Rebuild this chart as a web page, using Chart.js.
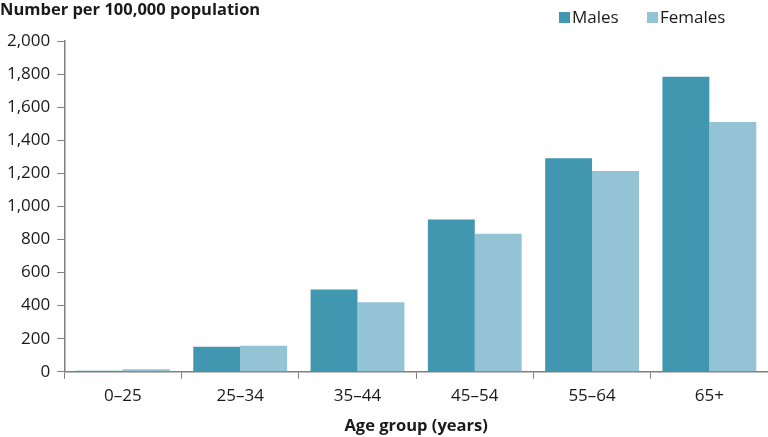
<!DOCTYPE html>
<html>
<head>
<meta charset="utf-8">
<script src="https://cdn.jsdelivr.net/npm/chart.js@4/dist/chart.umd.min.js"></script>
<style>
	html, body { margin: 0; padding: 0; background: #fff; }
	#wrap { width: 768px; height: 437px; position: relative; }
</style>
</head>
<body>
<div id="wrap"><canvas id="age-chart"></canvas></div>
<script>
const ageGroups = ["0\u201325", "25\u201334", "35\u201344", "45\u201354", "55\u201364", "65+"];
const males = [6, 151, 497, 921, 1291, 1784];
const females = [15, 157, 420, 834, 1214, 1511];
const seriesNames = ["Males", "Females"];
const seriesColours = ["#4297b0", "#93c3d5"];
const yTitle = "Number per 100,000 population";
const xTitle = "Age group (years)";

const fontFamily = "'Open Sans', 'Noto Sans', sans-serif";

// title in the top-left corner and legend in the top-right, on the same row
const headerPlugin = {
	id: "header",
	afterDraw(chart) {
		const ctx = chart.ctx;
		ctx.save();
		ctx.fillStyle = "#1a1a1a";
		ctx.font = "bold 16.5px " + fontFamily;
		ctx.textBaseline = "middle";
		ctx.textAlign = "left";
		ctx.fillText(yTitle, 0, 10);

		ctx.font = "17px " + fontFamily;
		const legendX = [559, 647];
		chart.data.datasets.forEach((ds, i) => {
			ctx.fillStyle = ds.backgroundColor;
			ctx.fillRect(legendX[i], 12, 11, 11);
			ctx.fillStyle = "#1a1a1a";
			ctx.fillText(ds.label, legendX[i] + 13, 18);
		});
		ctx.restore();
	},
};

const ageChart = new Chart(document.getElementById("age-chart"), {
	type: "bar",
	data: {
		labels: ageGroups,
		datasets: [
			{
				label: seriesNames[0],
				data: males,
				backgroundColor: seriesColours[0],
				hoverBackgroundColor: seriesColours[0],
			},
			{
				label: seriesNames[1],
				data: females,
				backgroundColor: seriesColours[1],
				hoverBackgroundColor: seriesColours[1],
			},
		],
	},
	options: {
		responsive: true,
		maintainAspectRatio: false,
		animation: false,
		datasets: {
			bar: {
				barPercentage: 1,
				categoryPercentage: 0.8,
			},
		},
		layout: {
			padding: { top: 41, right: 0, left: 0, bottom: 0 },
		},
		plugins: {
			legend: { display: false },
			tooltip: { enabled: false },
		},
		scales: {
			x: {
				grid: {
					offset: true,
					drawOnChartArea: false,
					color: "#7f7f7f",
					tickLength: 7,
				},
				border: { color: "#7f7f7f", width: 1.5 },
				ticks: {
					color: "#1a1a1a",
					font: { family: fontFamily, size: 17 },
					padding: 7,
				},
				title: {
					display: true,
					text: xTitle,
					color: "#1a1a1a",
					font: { family: fontFamily, size: 16.5, weight: "bold" },
					padding: { top: 3, bottom: 1 },
				},
			},
			y: {
				min: 0,
				max: 2000,
				grid: {
					drawOnChartArea: false,
					color: "#7f7f7f",
					tickLength: 7,
				},
				border: { color: "#7f7f7f", width: 1.5 },
				ticks: {
					stepSize: 200,
					color: "#1a1a1a",
					font: { family: fontFamily, size: 17 },
					padding: 7,
					callback: function (value) {
						return value.toLocaleString("en-US");
					},
				},
			},
		},
	},
	plugins: [headerPlugin],
});
</script>
</body>
</html>
